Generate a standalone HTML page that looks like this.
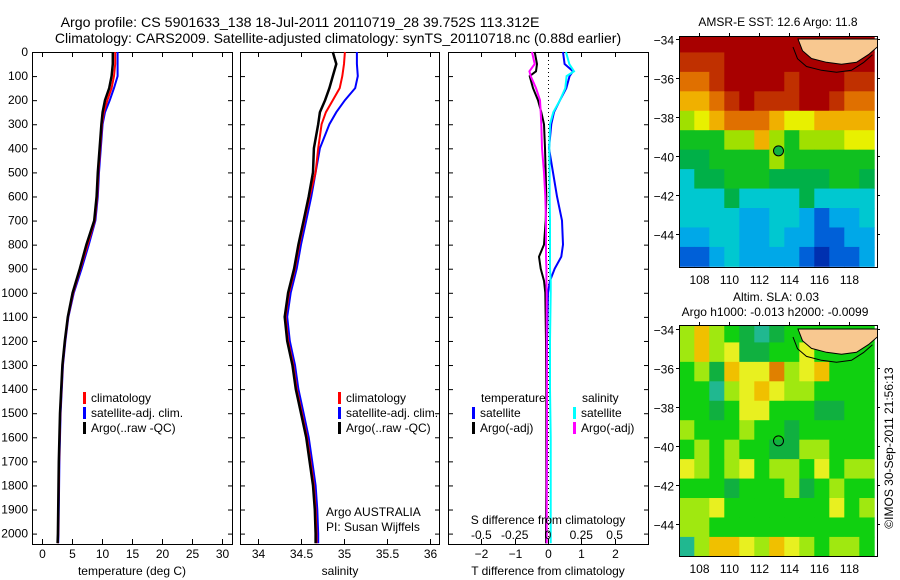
<!DOCTYPE html>
<html><head><meta charset="utf-8"><style>
body{margin:0;background:#fff}
svg{display:block;font-family:"Liberation Sans",sans-serif}
</style></head><body>
<svg id="chart" width="900" height="580" viewBox="0 0 900 580"></svg>
<script>
// ---- profile data ----
const depths = [0,50,100,150,200,250,300,400,500,600,700,800,900,1000,1100,1200,1300,1400,1500,1600,1700,1800,1900,2000,2040];
const tempArgo = [11.8,11.8,11.6,11.2,10.5,10.1,9.9,9.6,9.3,9.1,8.7,7.4,6.3,5.1,4.3,3.8,3.4,3.2,3.0,2.9,2.8,2.75,2.7,2.65,2.6];
const tempClim = [12.2,12.2,12.0,11.6,10.9,10.3,10.0,9.7,9.4,9.2,8.8,7.6,6.4,5.2,4.35,3.85,3.45,3.25,3.05,2.95,2.85,2.8,2.75,2.7,2.65];
const tempSat  = [12.6,12.6,12.6,12.0,11.3,10.5,10.1,9.8,9.5,9.3,8.9,7.8,6.6,5.3,4.4,3.9,3.5,3.3,3.1,3.0,2.9,2.85,2.8,2.75,2.7];
const salArgo = [34.87,34.91,34.87,34.83,34.78,34.72,34.70,34.65,34.64,34.59,34.53,34.47,34.42,34.35,34.31,34.34,34.40,34.44,34.50,34.56,34.60,34.64,34.66,34.67,34.67];
const salClim = [35.01,35.00,34.98,34.95,34.87,34.79,34.74,34.70,34.67,34.60,34.54,34.48,34.43,34.36,34.32,34.35,34.41,34.45,34.51,34.57,34.61,34.65,34.67,34.68,34.68];
const salSat  = [35.15,35.15,35.16,35.13,35.01,34.91,34.83,34.72,34.67,34.62,34.56,34.50,34.45,34.38,34.34,34.37,34.43,34.47,34.53,34.59,34.63,34.67,34.69,34.70,34.70];
const diffDepths = [0,50,80,100,150,200,250,300,400,500,600,700,800,850,900,950,1000,1200,1400,1600,1800,2000,2040];
const dTSat  = [0.45,0.5,0.75,0.65,0.55,0.36,0.18,0.1,0.03,0.15,0.27,0.42,0.45,0.4,0.2,0.06,0.0,-0.03,-0.04,-0.03,-0.04,-0.05,-0.05];
const dTArgo = [-0.4,-0.33,-0.36,-0.55,-0.45,-0.3,-0.2,-0.12,-0.09,-0.07,-0.05,-0.07,-0.12,-0.27,-0.22,-0.12,-0.08,-0.06,-0.05,-0.05,-0.05,-0.06,-0.06];
const dSSat  = [0.135,0.16,0.195,0.14,0.13,0.09,0.04,0.015,0.01,0.012,0.012,0.015,0.015,0.015,0.015,0.02,0.02,0.015,0.015,0.02,0.02,0.02,0.02];
const dSArgo = [-0.12,-0.1,-0.14,-0.13,-0.09,-0.06,-0.055,-0.05,-0.045,-0.03,-0.02,-0.015,-0.015,-0.015,-0.012,-0.012,-0.01,-0.01,-0.008,-0.008,-0.01,-0.01,-0.01];
const depthTicks = [0,100,200,300,400,500,600,700,800,900,1000,1100,1200,1300,1400,1500,1600,1700,1800,1900,2000];
const tempTicks = [0,5,10,15,20,25,30];
const salTicks = [34,34.5,35,35.5,36];
const salTickLabels = ["34","34.5","35","35.5","36"];
const dTTicks = [-2,-1,0,1,2];
const dSTicks = [-0.5,-0.25,0,0.25,0.5];
const dSTickLabels = ["-0.5","-0.25","0","0.25","0.5"];
// ---- map data (rows lat -34 downward, cols lon 107..119) ----
const lonTicks = [108,110,112,114,116,118];
const latTicks = [-34,-36,-38,-40,-42,-44];
const sstGrid = [
 [9,9,9,9,9,9,9,9,9,9,9,9,9],
 [8,8,8,9,9,9,9,9,9,9,9,9,9],
 [7,7,8,9,9,9,9,8,9,9,9,8,8],
 [6,6,7,8,9,8,8,8,9,9,8,7,7],
 [4,5,6,7,7,7,6,5,5,6,6,6,6],
 [3,3,3,4,4,6,4,3,4,4,4,5,5],
 [2,2,3,3,3,3,4,3,3,3,3,3,3],
 [1,2,2,3,3,3,2,2,2,2,3,3,2],
 [1,1,1,2,1,1,1,1,2,1,1,1,1],
 [1,1,1,1,0,0,1,1,0,-1,0,0,1],
 [0,0,1,1,0,0,1,0,0,-1,-1,0,0],
 [-1,-1,0,1,0,0,0,0,-1,-2,-1,-1,0]];
const slaGrid = [
 [4,6,4,3,2,1,2,3,3,3,3,3,3],
 [4,6,4,5,2,2,3,3,5,3,3,3,3],
 [3,4,2,6,5,5,7,4,5,6,3,3,3],
 [3,3,1,4,5,6,5,4,4,3,3,3,3],
 [3,3,2,3,5,5,3,3,3,2,2,3,3],
 [4,3,3,3,4,3,3,2,3,3,3,3,3],
 [3,4,3,4,3,3,2,2,4,4,3,3,3],
 [5,4,3,4,5,3,4,4,3,5,3,4,4],
 [3,3,3,2,3,3,3,4,2,3,4,3,3],
 [4,4,5,3,3,3,3,3,3,3,5,3,4],
 [4,4,3,3,3,3,3,3,3,3,3,3,3],
 [1,4,6,6,5,4,6,5,4,3,4,4,3]];
const landLon = [114.6,114.9,115.5,116.5,117.5,118.5,119.3,119.9,119.9,114.6];
const landLat = [-34,-34.6,-35.0,-35.2,-35.3,-35.2,-34.8,-34.4,-34,-34];
const argoLon = 113.3, argoLat = -39.75;

const NS="http://www.w3.org/2000/svg";
const svg=document.getElementById('chart');
function mk(tag,attrs,parent){const e=document.createElementNS(NS,tag);for(const k in attrs)e.setAttribute(k,attrs[k]);(parent||svg).appendChild(e);return e;}
function txt(s,x,y,anchor,size,parent){const t=mk('text',{x:x,y:y,'text-anchor':anchor||'middle','font-size':size||12,fill:'#000'},parent);t.textContent=s;return t;}

const yD = d => 52 + d*0.2408;
const TOP_Y=52, BOT_Y=544;

function panel(name,x0,x1){
  const g=mk('g',{});
  
  
  mk('rect',{x:x0+0.5,y:TOP_Y+0.5,width:x1-x0,height:BOT_Y-TOP_Y,fill:'none',stroke:'#000','stroke-width':1},g);
  depthTicks.forEach(d=>{mk('line',{x1:x0,x2:x0+5,y1:yD(d)+0.5,y2:yD(d)+0.5,stroke:'#000'},g);mk('line',{x1:x1-4,x2:x1+1,y1:yD(d)+0.5,y2:yD(d)+0.5,stroke:'#000'},g);});
  return g;
}
function line(g,xs,ds,xf,color,w,name){
  const p=xs.map((v,i)=>xf(v).toFixed(1)+','+yD(ds[i]).toFixed(1)).join(' ');
  const pl=mk('polyline',{points:p,fill:'none',stroke:color,'stroke-width':w},g);
  
  
}
function xticks(g,vals,labels,xf,y0,y1,labelY){
  vals.forEach((v,i)=>{const x=Math.round(xf(v))+0.5;mk('line',{x1:x,x2:x,y1:y0,y2:y0+5,stroke:'#000'},g);mk('line',{x1:x,x2:x,y1:y1-5,y2:y1,stroke:'#000'},g);
    const t=txt(labels[i],x,labelY,'middle',12,g);
    
    });
}
function legend(g,x,y,items){
  items.forEach((it,i)=>{mk('rect',{x:x,y:y+i*15-10,width:3,height:12,fill:it[1]},g);const t=txt(it[0],x+8,y+i*15,'start',12,g);
    
    });
}

// titles
let t1=txt('Argo profile: CS 5901633_138 18-Jul-2011 20110719_28 39.752S 113.312E',300,27,'middle',14.2);


let t2=txt('Climatology: CARS2009. Satellite-adjusted climatology: synTS_20110718.nc (0.88d earlier)',338,43,'middle',14);



// depth labels
depthTicks.forEach(d=>{const t=txt(String(d),28,yD(d)+4,'end',12);
  
  });

// Panel 1 temperature
const xT = v => 42 + v*6;
const g1=panel('temperature-panel',32,232);
xticks(g1,tempTicks,tempTicks.map(String),xT,TOP_Y,BOT_Y,558);
line(g1,tempSat,depths,xT,'#0000ff',2,'temp-satellite-line');
line(g1,tempClim,depths,xT,'#ff0000',2,'temp-climatology-line');
line(g1,tempArgo,depths,xT,'#000',2.5,'temp-argo-line');
let a1=txt('temperature (deg C)',132,575,'middle',12,g1);


legend(g1,83,402,[['climatology','#ff0000'],['satellite-adj. clim.','#0000ff'],['Argo(..raw -QC)','#000']]);

// Panel 2 salinity
const xS = v => 258 + (v-34)*86;
const g2=panel('salinity-panel',240,439);
xticks(g2,salTicks,salTickLabels,xS,TOP_Y,BOT_Y,558);
line(g2,salSat,depths,xS,'#0000ff',2,'sal-satellite-line');
line(g2,salClim,depths,xS,'#ff0000',2,'sal-climatology-line');
line(g2,salArgo,depths,xS,'#000',2.5,'sal-argo-line');
let a2=txt('salinity',340,575,'middle',12,g2);


legend(g2,338,402,[['climatology','#ff0000'],['satellite-adj. clim.','#0000ff'],['Argo(..raw -QC)','#000']]);
txt('Argo AUSTRALIA',326,516,'start',12,g2);
txt('PI: Susan Wijffels',326,531,'start',12,g2);

// Panel 3 differences
const xDT = v => 548 + v*33.3;
const xDS = v => 548 + v*133.2;
const g3=panel('difference-panel',448,648);
dTTicks.forEach(v=>{const x=Math.round(xDT(v))+0.5;mk('line',{x1:x,x2:x,y1:TOP_Y,y2:TOP_Y+5,stroke:'#000'},g3);mk('line',{x1:x,x2:x,y1:BOT_Y-5,y2:BOT_Y,stroke:'#000'},g3);
  const t=txt(String(v).replace('-','\u2212'),x,558,'middle',12,g3);
  
  });
mk('line',{x1:548.5,x2:548.5,y1:TOP_Y,y2:BOT_Y,stroke:'#000','stroke-dasharray':'1,3'},g3);
line(g3,dTSat,diffDepths,xDT,'#0000ff',2,'tdiff-satellite-line');
line(g3,dSSat,diffDepths,xDS,'#00ffff',2,'sdiff-satellite-line');
line(g3,dTArgo,diffDepths,xDT,'#000',2,'tdiff-argo-line');
line(g3,dSArgo,diffDepths,xDS,'#ff00ff',2,'sdiff-argo-line');
dSTicks.forEach((v,i)=>{const t=txt(dSTickLabels[i],xDS(v),539,'middle',12,g3);
  
  });
txt('S difference from climatology',548,524,'middle',12,g3);
txt('T difference from climatology',548,575,'middle',12,g3);
txt('temperature',481,402,'start',12,g3);
legend(g3,472,417,[['satellite','#0000ff'],['Argo(-adj)','#000']]);
txt('salinity',582,402,'start',12,g3);
legend(g3,573,417,[['satellite','#00ffff'],['Argo(-adj)','#ff00ff']]);

// maps
const sstColors={"-2":"#0030b0","-1":"#0060d8","0":"#00a8e8","1":"#00c8d0","2":"#00b048","3":"#10c020","4":"#a0e000","5":"#e8f000","6":"#f0b000","7":"#e07000","8":"#c03000","9":"#a80000"};
const slaColors={"1":"#20b890","2":"#10b040","3":"#10d010","4":"#a0e810","5":"#e8f020","6":"#f0c000","7":"#e08000"};
function map(name,x0,y0,lat34y,grid,colors,markerFill,titles){
  const g=mk('g',{});
  
  
  const xL = lon => 699 + (lon-108)*15;
  const yL = lat => lat34y + (-34-lat)*19.45;
  const x1=877,y1=y0+231;
  const clip=mk('clipPath',{id:name+'-clip'},g);
  mk('rect',{x:x0,y:y0,width:x1-x0,height:y1-y0},clip);
  const cg=mk('g',{'clip-path':'url(#'+name+'-clip)'},g);
  grid.forEach((row,r)=>row.forEach((v,c)=>{
    const lon=106.7+c, lat=-33.7-r;
    const cell=mk('rect',{x:xL(lon)-0.2,y:yL(lat)-0.2,width:15.4,height:19.9,fill:colors[v]},cg);
    
    
  }));
  const pts=landLon.map((v,i)=>xL(v).toFixed(1)+','+yL(landLat[i]).toFixed(1)).join(' ');
  mk('polygon',{points:pts,fill:'#f8c890',stroke:'#000','stroke-width':1},cg);
  const pts2=landLon.slice(0,8).map((v,i)=>(xL(v)-5).toFixed(1)+','+(yL(landLat[i])+8).toFixed(1)).join(' ');
  mk('polyline',{points:pts2,fill:'none',stroke:'#000','stroke-width':1},cg);
  mk('rect',{x:x0+0.5,y:y0+0.5,width:x1-x0,height:y1-y0,fill:'none',stroke:'#000'},g);
  lonTicks.forEach(v=>{const x=Math.round(xL(v))+0.5;mk('line',{x1:x,x2:x,y1:y0-3,y2:y0,stroke:'#000'},g);txt(String(v),x,y1+17,'middle',12,g);});
  latTicks.forEach(v=>{const y=Math.round(yL(v))+0.5;mk('line',{x1:x0-3,x2:x0,y1:y,y2:y,stroke:'#000'},g);mk('line',{x1:x1,x2:x1+3,y1:y,y2:y,stroke:'#000'},g);txt(String(v).replace('-','\u2212'),x0-5,y+5,'end',12,g);});
  const m=mk('circle',{cx:xL(argoLon),cy:yL(argoLat),r:5,fill:markerFill,stroke:'#000'},g);
  
  
  titles.forEach(tt=>txt(tt[0],tt[1],tt[2],'middle',12,g));
}
map('sst-map',679,36,39,sstGrid,sstColors,'#10b040',[['AMSR-E SST: 12.6  Argo: 11.8',778,26]]);
map('sla-map',679,325,329,slaGrid,slaColors,'none',[['Altim. SLA: 0.03',776,301],['Argo h1000: -0.013 h2000: -0.0099',775,316]]);

const c=txt('\u00a9IMOS 30-Sep-2011 21:56:13',0,0,'middle',12);
c.setAttribute('transform','translate(893,448) rotate(-90)');


</script>
</body></html>
